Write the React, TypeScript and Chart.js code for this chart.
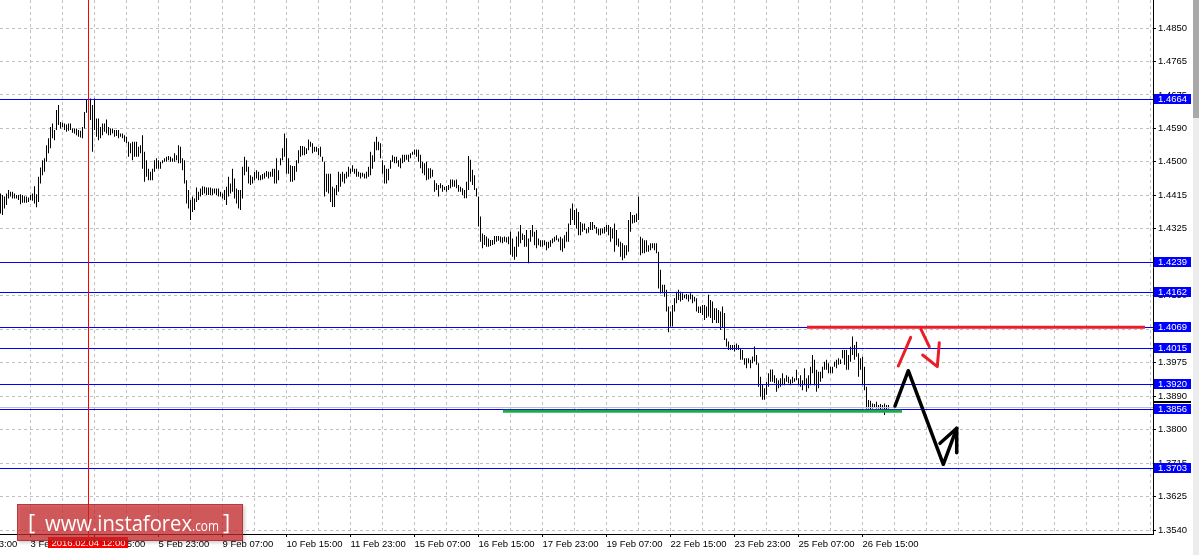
import React, { useEffect, useRef } from 'react';
import { Chart, registerables } from 'chart.js';

Chart.register(...registerables);

// ---- H1 bars (high / low), one per hour ----
const barHigh = [
  1.4418,1.4414,1.4410,1.4418,1.4427,1.4423,1.4423,1.4418,1.4414,1.4414,
  1.4416,1.4414,1.4411,1.4410,1.4408,1.4414,1.4418,1.4437,1.4416,1.4462,
  1.4486,1.4505,1.4510,1.4544,1.4562,1.4592,1.4601,1.4584,1.4636,1.4649,
  1.4605,1.4603,1.4601,1.4598,1.4601,1.4601,1.4588,1.4588,1.4588,1.4584,
  1.4582,1.4592,1.4631,1.4662,1.4666,1.4666,1.4649,1.4666,1.4614,1.4614,
  1.4592,1.4601,1.4601,1.4611,1.4592,1.4588,1.4588,1.4584,1.4584,1.4584,
  1.4575,1.4575,1.4570,1.4566,1.4553,1.4549,1.4553,1.4553,1.4553,1.4540,
  1.4544,1.4570,1.4527,1.4505,1.4483,1.4475,1.4483,1.4505,1.4510,1.4505,
  1.4501,1.4505,1.4510,1.4514,1.4516,1.4514,1.4510,1.4523,1.4518,1.4544,
  1.4540,1.4510,1.4505,1.4453,1.4427,1.4401,1.4410,1.4405,1.4434,1.4423,
  1.4431,1.4437,1.4436,1.4434,1.4434,1.4434,1.4431,1.4431,1.4431,1.4431,
  1.4423,1.4418,1.4427,1.4436,1.4462,1.4444,1.4483,1.4457,1.4431,1.4427,
  1.4427,1.4488,1.4514,1.4505,1.4488,1.4466,1.4462,1.4475,1.4479,1.4475,
  1.4466,1.4469,1.4472,1.4477,1.4475,1.4475,1.4483,1.4483,1.4510,1.4479,
  1.4510,1.4536,1.4575,1.4562,1.4510,1.4492,1.4490,1.4490,1.4505,1.4531,
  1.4542,1.4542,1.4540,1.4536,1.4559,1.4553,1.4549,1.4540,1.4540,1.4536,
  1.4540,1.4514,1.4501,1.4470,1.4470,1.4470,1.4436,1.4431,1.4440,1.4475,
  1.4470,1.4475,1.4470,1.4475,1.4488,1.4483,1.4492,1.4483,1.4483,1.4475,
  1.4472,1.4472,1.4470,1.4475,1.4488,1.4527,1.4518,1.4553,1.4566,1.4553,
  1.4549,1.4505,1.4492,1.4483,1.4483,1.4505,1.4518,1.4514,1.4514,1.4505,
  1.4510,1.4519,1.4519,1.4519,1.4519,1.4523,1.4527,1.4533,1.4533,1.4532,
  1.4519,1.4501,1.4497,1.4501,1.4484,1.4484,1.4480,1.4453,1.4445,1.4440,
  1.4445,1.4440,1.4436,1.4438,1.4440,1.4455,1.4455,1.4453,1.4455,1.4440,
  1.4436,1.4432,1.4427,1.4449,1.4516,1.4506,1.4480,1.4466,1.4432,1.4410,
  1.4358,1.4314,1.4310,1.4306,1.4301,1.4297,1.4297,1.4307,1.4307,1.4307,
  1.4306,1.4304,1.4306,1.4304,1.4306,1.4319,1.4301,1.4279,1.4306,1.4319,
  1.4336,1.4314,1.4310,1.4323,1.4301,
  1.4323,1.4336,1.4318,1.4323,1.4301,
  1.4296,1.4296,1.4296,1.4292,1.4292,1.4296,1.4301,1.4305,1.4309,1.4301,
  1.4305,1.4301,1.4309,1.4318,1.4340,1.4379,1.4392,1.4375,1.4379,1.4370,
  1.4344,1.4340,1.4340,1.4327,1.4331,1.4344,1.4344,1.4336,1.4331,1.4327,
  1.4327,1.4327,1.4331,1.4336,1.4336,1.4331,1.4327,1.4340,1.4323,1.4301,
  1.4292,1.4288,1.4283,1.4283,1.4349,1.4370,1.4362,1.4362,1.4366,1.4410,
  1.4305,1.4301,1.4296,1.4296,1.4283,1.4288,1.4288,1.4288,1.4288,1.4266,
  1.4219,1.4180,1.4180,1.4167,1.4123,
  1.4110,1.4127,1.4145,1.4162,1.4167,
  1.4162,1.4158,1.4154,1.4156,1.4154,1.4158,1.4154,1.4149,1.4145,1.4123,
  1.4123,1.4127,1.4127,1.4123,1.4154,1.4140,1.4136,1.4119,1.4119,1.4114,
  1.4110,1.4123,1.4106,1.4040,1.4032,1.4023,1.4023,1.4023,1.4027,1.4023,
  1.4014,1.4010,1.3988,1.3988,1.3988,1.3984,1.3993,1.4019,1.3997,1.3975,
  1.3940,1.3919,1.3910,1.3927,1.3949,
  1.3959,1.3959,1.3944,1.3936,1.3931,
  1.3936,1.3949,1.3936,1.3944,1.3940,1.3933,1.3940,1.3936,1.3958,1.3936,
  1.3944,1.3931,1.3962,1.3936,1.3944,1.3966,1.3997,1.3984,1.3958,1.3953,
  1.3953,1.3966,1.3979,1.3984,1.3975,1.3966,1.3966,1.3979,1.3984,1.3988,
  1.3985,1.4010,1.4010,1.4010,1.3997,1.4018,1.4045,1.4023,1.4031,1.4001,
  1.3988,1.3992,1.3966,1.3914,1.3879,1.3877,1.3870,1.3869,1.3875,1.3866,
  1.3869,1.3866,1.3870,1.3866,1.3866,
];

const barLow = [
  1.4366,1.4362,1.4379,1.4388,1.4405,1.4410,1.4405,1.4405,1.4405,1.4401,
  1.4390,1.4394,1.4394,1.4394,1.4396,1.4401,1.4399,1.4392,1.4382,1.4396,
  1.4444,1.4466,1.4475,1.4501,1.4523,1.4536,1.4562,1.4557,1.4584,1.4597,
  1.4588,1.4592,1.4584,1.4579,1.4582,1.4584,1.4577,1.4575,1.4570,1.4566,
  1.4564,1.4562,1.4588,1.4629,1.4627,1.4610,1.4527,1.4584,1.4566,1.4557,
  1.4562,1.4570,1.4579,1.4575,1.4570,1.4570,1.4575,1.4566,1.4568,1.4562,
  1.4566,1.4562,1.4553,1.4549,1.4514,1.4523,1.4505,1.4514,1.4514,1.4514,
  1.4523,1.4483,1.4449,1.4462,1.4453,1.4453,1.4453,1.4475,1.4483,1.4483,
  1.4483,1.4497,1.4501,1.4501,1.4505,1.4501,1.4501,1.4501,1.4505,1.4497,
  1.4497,1.4479,1.4444,1.4392,1.4379,1.4349,1.4370,1.4375,1.4396,1.4401,
  1.4410,1.4414,1.4418,1.4414,1.4414,1.4414,1.4414,1.4418,1.4414,1.4410,
  1.4410,1.4405,1.4401,1.4388,1.4410,1.4418,1.4423,1.4405,1.4392,1.4379,
  1.4375,1.4405,1.4466,1.4475,1.4444,1.4440,1.4444,1.4453,1.4457,1.4453,
  1.4453,1.4455,1.4457,1.4462,1.4457,1.4462,1.4462,1.4444,1.4444,1.4453,
  1.4492,1.4505,1.4514,1.4470,1.4470,1.4449,1.4449,1.4453,1.4475,1.4497,
  1.4514,1.4518,1.4518,1.4521,1.4531,1.4540,1.4523,1.4527,1.4527,1.4518,
  1.4514,1.4501,1.4410,1.4423,1.4418,1.4396,1.4383,1.4383,1.4414,1.4423,
  1.4436,1.4449,1.4444,1.4457,1.4462,1.4470,1.4475,1.4470,1.4462,1.4462,
  1.4457,1.4462,1.4457,1.4457,1.4462,1.4466,1.4483,1.4501,1.4531,1.4531,
  1.4510,1.4470,1.4444,1.4444,1.4453,1.4483,1.4501,1.4497,1.4497,1.4488,
  1.4484,1.4497,1.4501,1.4506,1.4501,1.4510,1.4519,1.4519,1.4514,1.4501,
  1.4484,1.4471,1.4466,1.4453,1.4455,1.4458,1.4462,1.4423,1.4427,1.4410,
  1.4432,1.4423,1.4427,1.4423,1.4427,1.4432,1.4436,1.4436,1.4432,1.4423,
  1.4423,1.4414,1.4406,1.4406,1.4427,1.4449,1.4440,1.4427,1.4410,1.4332,
  1.4292,1.4275,1.4284,1.4279,1.4279,1.4281,1.4284,1.4286,1.4292,1.4295,
  1.4290,1.4288,1.4292,1.4290,1.4286,1.4258,1.4253,1.4245,1.4253,1.4279,
  1.4288,1.4297,1.4279,1.4279,1.4236,
  1.4292,1.4305,1.4283,1.4275,1.4283,
  1.4279,1.4279,1.4283,1.4270,1.4275,1.4279,1.4288,1.4292,1.4296,1.4292,
  1.4270,1.4266,1.4275,1.4292,1.4292,1.4336,1.4349,1.4336,1.4327,1.4309,
  1.4309,1.4318,1.4323,1.4314,1.4316,1.4323,1.4323,1.4327,1.4314,1.4309,
  1.4309,1.4314,1.4314,1.4318,1.4309,1.4292,1.4301,1.4266,1.4283,1.4279,
  1.4253,1.4244,1.4249,1.4257,1.4266,1.4318,1.4340,1.4342,1.4344,1.4349,
  1.4257,1.4262,1.4262,1.4266,1.4266,1.4270,1.4275,1.4270,1.4262,1.4170,
  1.4157,1.4158,1.4149,1.4110,1.4056,
  1.4071,1.4071,1.4110,1.4132,1.4140,
  1.4136,1.4140,1.4145,1.4142,1.4136,1.4142,1.4132,1.4136,1.4110,1.4106,
  1.4106,1.4101,1.4088,1.4093,1.4097,1.4093,1.4080,1.4088,1.4080,1.4080,
  1.4062,1.4067,1.4036,1.4019,1.4010,1.4010,1.4010,1.4006,1.4010,1.4010,
  1.3984,1.3984,1.3971,1.3962,1.3975,1.3962,1.3975,1.3980,1.3971,1.3914,
  1.3888,1.3880,1.3880,1.3893,1.3914,
  1.3927,1.3927,1.3923,1.3901,1.3910,
  1.3914,1.3918,1.3918,1.3927,1.3923,1.3918,1.3923,1.3927,1.3931,1.3918,
  1.3914,1.3905,1.3918,1.3901,1.3910,1.3918,1.3949,1.3918,1.3901,1.3910,
  1.3927,1.3936,1.3958,1.3958,1.3949,1.3949,1.3949,1.3966,1.3962,1.3971,
  1.3973,1.3988,1.3971,1.3958,1.3958,1.3979,1.3997,1.3984,1.3992,1.3940,
  1.3958,1.3918,1.3905,1.3857,1.3857,1.3855,1.3857,1.3860,1.3857,1.3857,
  1.3855,1.3857,1.3840,1.3855,1.3857,
];

// ---- axes ----
const xMin = -0.25;
const xMax = 576.25;
const yMin = 1.352957;
const yMax = 1.49231;

const xGridIdx = [15,31,47,63,79,95,111,127,143,159,175,191,207,223,239,255,271,287,303,319,335,351,367,383,399,415,431,447,463,479,495,511,527,543,559,575];
const xLabelIdx = [-17,15,47,79,111,143,175,207,239,271,303,335,367,399,431];
const xLabels = ['2 Feb 23:00','3 Feb 07:00','4 Feb 15:00','5 Feb 23:00','9 Feb 07:00','10 Feb 15:00','11 Feb 23:00','15 Feb 07:00','16 Feb 15:00','17 Feb 23:00','19 Feb 07:00','22 Feb 15:00','23 Feb 23:00','25 Feb 07:00','26 Feb 15:00'];

const yTickValues = [1.35400,1.36273,1.37147,1.38020,1.38893,1.39767,1.40640,1.41513,1.42387,1.43260,1.44133,1.45007,1.45880,1.46753,1.47627,1.48500];
const yTickLabels = ['1.3540','1.3625','1.3715','1.3800','1.3890','1.3975','1.4065','1.4150','1.4240','1.4325','1.4415','1.4500','1.4590','1.4675','1.4765','1.4850'];

// ---- horizontal levels ----
const levelPrices = [1.4664,1.4239,1.4162,1.4069,1.4015,1.3920,1.3856,1.3703];
const levelLabels = ['1.4664','1.4239','1.4162','1.4069','1.4015','1.3920','1.3856','1.3703'];
const bidPrice = 1.3862;
const markerPrice = 1.3875;

// ---- drawn objects (bar index, price) ----
const resistance = { price: 1.4069, from: 403.25, to: 572.25 };
const support = { price: 1.3850, from: 251.25, to: 450.75 };
const crossIdx = 44;
const crossLabel = '2016.02.04 12:00';
const blackPath = [[447.25,1.38636],[453.9,1.39557],[471.4,1.37115],[478.1,1.38054]];
const blackHead = [[469.75,1.37663],[478.1,1.38054],[478.1,1.37417]];
const redUp = [[448.9,1.39680],[455.1,1.40429]];
const redDown = [[460.25,1.40638],[464.4,1.40184]];
const redHead = [[461.1,1.39967],[468.4,1.39662],[469.4,1.40288]];

const FONT = '"Liberation Sans", Arial, sans-serif';
const FONT_SIZE = 9.5;

const overlay = {
  id: 'overlay',
  afterDatasetsDraw(chart: any) {
    const { ctx, chartArea: a, scales } = chart;
    const xs = scales.x, ys = scales.y;
    const px = (v: number) => xs.getPixelForValue(v);
    const py = (v: number) => ys.getPixelForValue(v);
    const poly = (pts: number[][]) => {
      ctx.beginPath();
      pts.forEach((p, i) => (i ? ctx.lineTo(px(p[0]), py(p[1])) : ctx.moveTo(px(p[0]), py(p[1]))));
      ctx.stroke();
    };
    ctx.save();
    ctx.beginPath();
    ctx.rect(a.left, a.top, a.right - a.left, a.bottom - a.top);
    ctx.clip();
    ctx.lineWidth = 1;
    // bid line
    ctx.strokeStyle = '#c0c0c0';
    const yb = Math.round(py(bidPrice)) + 0.5;
    ctx.beginPath(); ctx.moveTo(a.left, yb); ctx.lineTo(a.right, yb); ctx.stroke();
    // levels
    ctx.strokeStyle = '#0000ff';
    levelPrices.forEach((p) => {
      const y = Math.round(py(p)) + 0.5;
      ctx.beginPath(); ctx.moveTo(a.left, y); ctx.lineTo(a.right, y); ctx.stroke();
    });
    // vertical cross line over the bars
    const cx = Math.floor(px(crossIdx)) + 0.5;
    ctx.strokeStyle = '#ff0000';
    ctx.beginPath(); ctx.moveTo(cx, a.top); ctx.lineTo(cx, a.bottom); ctx.stroke();
    // support (green) and resistance (red)
    ctx.lineCap = 'butt';
    ctx.strokeStyle = '#22a84a';
    ctx.lineWidth = 3;
    poly([[support.from, support.price],[support.to, support.price]]);
    ctx.strokeStyle = '#e91e28';
    ctx.lineWidth = 3;
    poly([[resistance.from, resistance.price],[resistance.to, resistance.price]]);
    // black zigzag arrow
    ctx.lineCap = 'round';
    ctx.lineJoin = 'round';
    ctx.strokeStyle = '#000';
    ctx.lineWidth = 3.5;
    poly(blackPath);
    poly(blackHead);
    // red arrows
    ctx.strokeStyle = '#e91e28';
    ctx.lineWidth = 3;
    poly(redUp);
    poly(redDown);
    poly(redHead);
    ctx.restore();
  },
  afterDraw(chart: any) {
    const { ctx, chartArea: a, scales } = chart;
    const xs = scales.x, ys = scales.y;
    const px = (v: number) => xs.getPixelForValue(v);
    const py = (v: number) => ys.getPixelForValue(v);
    ctx.save();
    // first, cut-off x label
    ctx.font = `${FONT_SIZE}px ${FONT}`;
    ctx.fillStyle = '#000';
    ctx.textAlign = 'left';
    ctx.textBaseline = 'middle';
    ctx.fillText(xLabels[0], px(xLabelIdx[0]), a.bottom + 3 + 2 + FONT_SIZE * 0.6);

    // vertical cross line below the chart and its date box
    const cx = Math.floor(px(crossIdx)) + 0.5;
    ctx.strokeStyle = '#ff0000';
    ctx.lineWidth = 1;
    ctx.beginPath(); ctx.moveTo(cx, a.bottom - 1); ctx.lineTo(cx, a.bottom + 3); ctx.stroke();
    ctx.fillStyle = '#ff0000';
    ctx.fillRect(cx - 40.5, a.bottom + 3, 80, 11);
    ctx.fillStyle = '#fff';
    ctx.textAlign = 'center';
    ctx.fillText(crossLabel, cx, a.bottom + 9);

    // axis markers
    ctx.fillStyle = '#000';
    ctx.fillRect(a.right, Math.round(py(markerPrice)) - 1, 38, 2);
    ctx.textAlign = 'left';
    levelPrices.forEach((p, i) => {
      const y = Math.round(py(p));
      ctx.fillStyle = '#0000ff';
      ctx.fillRect(a.right + 1, y - 5, 37, 10);
      ctx.fillStyle = '#fff';
      ctx.fillText(levelLabels[i], a.right + 5, y + 0.5);
    });

    // scrollbar strip on the right edge
    ctx.fillStyle = '#ececec';
    ctx.fillRect(1193, 0, 6, 555);
    ctx.fillStyle = '#a9a9a9';
    ctx.fillRect(1193, 0, 6, 118);

    // watermark
    ctx.shadowColor = 'rgba(0,0,0,0.25)';
    ctx.shadowBlur = 3;
    ctx.shadowOffsetX = 2;
    ctx.shadowOffsetY = 2;
    ctx.fillStyle = 'rgba(205,40,45,0.72)';
    ctx.fillRect(17, 504, 226, 37);
    ctx.shadowColor = 'transparent';
    ctx.strokeStyle = 'rgba(160,30,35,0.6)';
    ctx.lineWidth = 1;
    ctx.strokeRect(17.5, 504.5, 225, 36);
    ctx.fillStyle = '#fff';
    ctx.textBaseline = 'alphabetic';
    ctx.font = '22px "Open Sans", "Liberation Sans", sans-serif';
    ctx.fillText('[', 28, 530);
    ctx.fillText('www.instaforex', 45, 531, 147);
    ctx.fillText(']', 223, 530);
    ctx.font = '15px "Open Sans", "Liberation Sans", sans-serif';
    ctx.fillText('.com', 192, 531, 27);
    ctx.restore();
  },
};

export default function App() {
  const ref = useRef<HTMLCanvasElement | null>(null);
  useEffect(() => {
    const canvas = ref.current;
    if (!canvas) return;
    Chart.defaults.font.family = FONT;
    Chart.defaults.font.size = FONT_SIZE;
    Chart.defaults.color = '#000';
    const chart = new Chart(canvas, {
      type: 'bar',
      data: {
        datasets: [
          {
            data: barHigh.map((h, i) => ({ x: i, y: [barLow[i], h] })),
            backgroundColor: '#000',
            borderWidth: 0,
            barThickness: 1,
            inflateAmount: 0,
          } as any,
        ],
      },
      options: {
        responsive: false,
        animation: false,
        events: [],
        layout: { padding: 0 },
        plugins: { legend: { display: false }, tooltip: { enabled: false }, title: { display: false } },
        scales: {
          x: {
            type: 'linear',
            position: 'bottom',
            min: xMin,
            max: xMax,
            offset: false,
            grid: {
              offset: false,
              color: '#c0c0c0',
              lineWidth: 1,
              tickLength: 3,
              tickColor: (c: any) => (c.tick && xLabelIdx.indexOf(c.tick.value) >= 0 ? '#000' : 'rgba(0,0,0,0)'),
            },
            border: { display: true, color: '#000', width: 1, dash: [3, 3] },
            ticks: {
              autoSkip: false,
              maxRotation: 0,
              minRotation: 0,
              align: 'start',
              padding: 2,
              color: '#000',
              font: { family: FONT, size: FONT_SIZE },
              callback: (v: any) => {
                const j = xLabelIdx.indexOf(Number(v));
                return j >= 0 ? xLabels[j] : '';
              },
            },
            afterBuildTicks: (s: any) => {
              s.ticks = xGridIdx.map((v) => ({ value: v }));
            },
            afterFit: (s: any) => {
              s.height = 21;
              s.paddingLeft = 0;
              s.paddingRight = 0;
            },
          } as any,
          y: {
            type: 'linear',
            position: 'right',
            min: yMin,
            max: yMax,
            beginAtZero: false,
            grid: { color: '#c0c0c0', lineWidth: 1, tickLength: 3, tickColor: '#000' },
            border: { display: true, color: '#000', width: 1, dash: [3, 3] },
            ticks: {
              padding: 2,
              color: '#000',
              autoSkip: false,
              font: { family: FONT, size: FONT_SIZE },
              callback: (_v: any, i: number) => yTickLabels[i],
            },
            afterBuildTicks: (s: any) => {
              s.ticks = yTickValues.map((v) => ({ value: v }));
            },
            afterFit: (s: any) => {
              s.width = 46;
              s.paddingTop = 0;
              s.paddingBottom = 0;
            },
          } as any,
        },
      },
      plugins: [overlay],
    });
    return () => chart.destroy();
  }, []);
  return (
    <div style={{ position: 'fixed', left: 0, top: 0, width: 1199, height: 555, background: '#fff' }}>
      <canvas ref={ref} width={1199} height={555} style={{ display: 'block' }} />
    </div>
  );
}
